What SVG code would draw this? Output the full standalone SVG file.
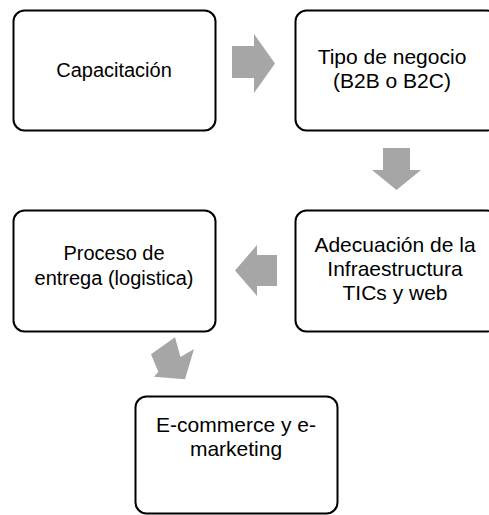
<svg xmlns="http://www.w3.org/2000/svg" width="489" height="515" viewBox="0 0 489 515">
<style>
.box{fill:#fff;stroke:#000;stroke-width:2}
.t{font-family:"Liberation Sans",Arial,sans-serif;font-size:21px;fill:#000;text-anchor:middle}
.s{font-size:20px}
.arr{fill:#a6a6a6}
</style>
<rect width="489" height="515" fill="#fff"/>
<g id="n1"><rect class="box" x="13.5" y="10.5" width="202" height="120" rx="11"/><text class="t s" x="114" y="77">Capacitación</text></g>
<g id="n2"><rect class="box" x="295.5" y="10.5" width="202" height="120" rx="11"/><text class="t" x="392" y="64">Tipo de negocio</text><text class="t" x="392" y="88">(B2B o B2C)</text></g>
<g id="n3"><rect class="box" x="295.5" y="210.5" width="202" height="121" rx="11"/><text class="t" x="395" y="252">Adecuación de la</text><text class="t" x="395" y="276">Infraestructura</text><text class="t" x="395" y="300">TICs y web</text></g>
<g id="n4"><rect class="box" x="13.5" y="210.5" width="202" height="121" rx="11"/><text class="t s" x="114" y="260">Proceso de</text><text class="t s" x="114" y="285">entrega (logistica)</text></g>
<g id="n5"><rect class="box" x="135.5" y="396.5" width="202" height="117" rx="11"/><text class="t" x="236" y="432">E-commerce y e-</text><text class="t" x="236" y="456">marketing</text></g>
<g id="connectors">
<polygon class="arr" points="232,46 254,46 254,34 275,63.5 254,93 254,78 232,78"/>
<polygon class="arr" points="383,148 410,148 410,170 421,170 396.5,190 372,170 383,170"/>
<polygon class="arr" points="277,255 257,255 257,245 235,270.5 257,296 257,286 277,286"/>
<polygon class="arr" points="151,354.3 175,337.3 180.5,357 194,349 185,379.3 154,376.7 158.3,371.7"/>
</g>
</svg>
